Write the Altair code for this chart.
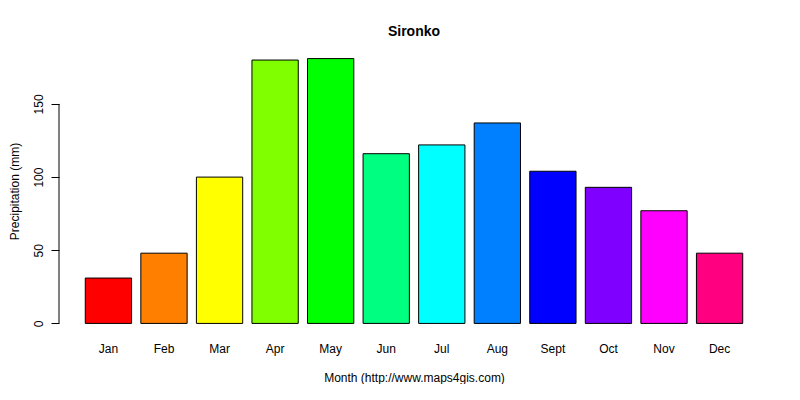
import altair as alt
import pandas as pd

months = ["Jan", "Feb", "Mar", "Apr", "May", "Jun", "Jul", "Aug", "Sept", "Oct", "Nov", "Dec"]
precip = [31, 48, 100, 180, 181, 116, 122, 137, 104, 93, 77, 48]
colors = ["#FF0000", "#FF8000", "#FFFF00", "#80FF00", "#00FF00", "#00FF80",
          "#00FFFF", "#0080FF", "#0000FF", "#8000FF", "#FF00FF", "#FF0080"]
y_ticks = [0, 50, 100, 150]

df = pd.DataFrame({"month": months, "precip": precip, "color": colors})

FONT = "Liberation Sans"
W, H = 710, 286
ymax = max(precip)
ylo, yhi = -0.04 * ymax, ymax * 1.04

yscale = alt.Scale(domain=[ylo, yhi], nice=False, zero=False)

bars = alt.Chart(df).mark_bar(stroke="black", strokeWidth=1).encode(
    x=alt.X("month:N", sort=months,
            scale=alt.Scale(paddingInner=0.2 / 1.2, paddingOuter=0.473),
            axis=alt.Axis(title="Month (http://www.maps4gis.com)", labelAngle=0,
                          domain=False, ticks=False, labelPadding=9,
                          labelFont=FONT, labelFontSize=12, labelColor="black",
                          titleFont=FONT, titleFontSize=12, titleFontWeight="normal",
                          titleColor="black", titlePadding=18)),
    y=alt.Y("precip:Q", scale=yscale,
            axis=alt.Axis(title="Precipitation (mm)", values=y_ticks, domain=False,
                          grid=False, tickSize=8, tickColor="black", labelAngle=-90,
                          labelAlign="center", labelBaseline="bottom", labelPadding=6,
                          labelFont=FONT, labelFontSize=12, labelColor="black",
                          titleFont=FONT, titleFontSize=12, titleFontWeight="normal",
                          titleColor="black", titlePadding=11)),
    y2=alt.datum(0),
    color=alt.Color("color:N", scale=None),
)

axis_df = pd.DataFrame({"lo": [y_ticks[0]], "hi": [y_ticks[-1]]})
axis_line = alt.Chart(axis_df).mark_rule(color="black", strokeWidth=1).encode(
    x=alt.value(0),
    y=alt.Y("lo:Q", scale=yscale),
    y2="hi:Q",
)

chart = alt.layer(bars, axis_line).properties(
    width=W, height=H,
    background="white",
    title=alt.TitleParams("Sironko", font=FONT, fontSize=14, fontWeight="bold",
                          color="black", anchor="middle", offset=9),
    autosize=alt.AutoSizeParams(type="none"),
    padding={"left": 51, "top": 40, "right": 20, "bottom": 50},
).configure_view(strokeWidth=0)

chart.save("out.html", embed_options={"renderer": "svg", "actions": False})
